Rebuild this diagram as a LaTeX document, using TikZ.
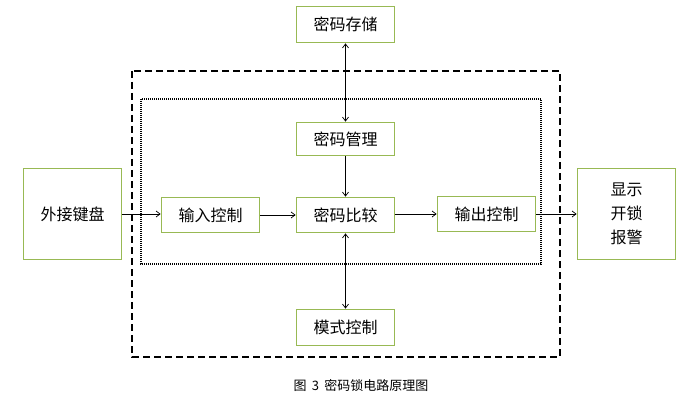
\documentclass[tikz,border=0pt]{standalone}
\usepackage{fontspec}
\setmainfont{Noto Sans CJK SC}
\usetikzlibrary{arrows.meta}
\definecolor{boxgreen}{HTML}{98B954}
\begin{document}
\begin{tikzpicture}[x=1pt,y=-1pt,
  blk/.style={draw=boxgreen,line width=1.8pt,inner sep=0pt,minimum width=98pt,font=\fontsize{16}{24}\selectfont,align=center},
  wide/.style={blk,minimum height=35pt},
  tall/.style={blk,minimum height=91pt},
  conn/.style={line width=0.7pt,-{Straight Barb[length=4pt,width=6pt]}},
  bconn/.style={line width=0.7pt,{Straight Barb[length=4pt,width=6pt]}-{Straight Barb[length=4pt,width=6pt]}}]
\useasboundingbox (0,0) rectangle (698,414);
\fill[white] (0,0) rectangle (698,414);
\draw[line width=1.6pt,dash pattern=on 7pt off 4pt] (132,71) rectangle (560,357);
\draw[line width=1.1pt,dash pattern=on 1pt off 1pt] (141,99) rectangle (541,264);
\node[tall] (kb) at (72.5,214) {外接键盘};
\node[wide] (in) at (210.5,215) {输入控制};
\node[wide] (cmp) at (345.5,215) {密码比较};
\node[wide] (out) at (486.5,214) {输出控制};
\node[tall] (disp) at (626.5,214) {显示\\开锁\\报警};
\node[wide,minimum height=36pt] (store) at (345.5,24.5) {密码存储};
\node[wide,minimum height=33pt] (mgr) at (345.5,139) {密码管理};
\node[wide,minimum height=36pt] (mode) at (345.5,327.5) {模式控制};
\node[font=\fontsize{13}{14}\selectfont] (cap) at (361,385) {图\hspace{0.4em}3\hspace{0.4em}密码锁电路原理图};
\draw[conn] (kb.east |- 0,214) -- (in.west |- 0,214);
\draw[conn] (in) -- (cmp);
\draw[conn] (cmp.east |- 0,214) -- (out.west |- 0,214);
\draw[conn] (out) -- (disp.west |- out);
\draw[bconn] (store) -- (mgr);
\draw[conn] (mgr) -- (cmp);
\draw[bconn] (cmp) -- (mode);
\end{tikzpicture}
\end{document}
